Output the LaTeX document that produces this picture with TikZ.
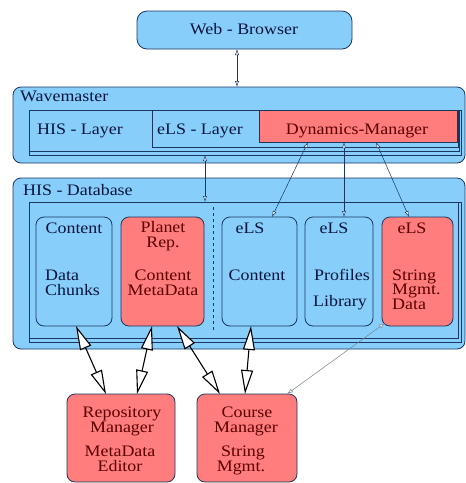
\documentclass[tikz,border=0pt]{standalone}
\usepackage{fontspec}
\setmainfont{Liberation Serif}[FakeStretch=1.12]
\usetikzlibrary{arrows.meta,calc}
\definecolor{lblue}{RGB}{135,206,250}
\definecolor{lred}{RGB}{255,125,125}
\definecolor{edge}{RGB}{25,55,95}
\definecolor{dred}{RGB}{90,0,0}
\definecolor{dnavy}{RGB}{10,20,60}
\definecolor{thingray}{RGB}{120,130,140}
\begin{document}
\begin{tikzpicture}[x=1pt,y=-1pt,
  box/.style={draw=edge,line width=0.8pt,inner sep=0pt,outer sep=0pt,anchor=north west},
  bluebox/.style={box,fill=lblue},
  redbox/.style={box,fill=lred},
  lbl/.style={inner sep=0pt,font=\fontsize{16}{15}\selectfont,text=dnavy,anchor=base},
  lblw/.style={lbl,anchor=base west},
  rlbl/.style={lbl,text=dred},
  rlblw/.style={lblw,text=dred},
  big/.style={line width=1.1pt,{Triangle[length=24pt,width=12pt,fill=white]}-{Triangle[length=24pt,width=12pt,fill=white]}},
  small/.style={draw=edge,line width=0.5pt,{Latex[length=6pt,width=4pt,fill=white]}-{Latex[length=6pt,width=4pt,fill=white]}},
  thin/.style={draw=thingray,line width=0.5pt,{Latex[length=6pt,width=4pt,fill=white]}-{Latex[length=6pt,width=4pt,fill=white]}},
]
\useasboundingbox (0,0) rectangle (466,483);

% Web browser
\node[bluebox,rounded corners=10pt,minimum width=215pt,minimum height=38pt] (web) at (137,11) {};
\node[lbl] (webt) at (244,34) {Web - Browser};

% Wavemaster
\node[bluebox,rounded corners=8pt,minimum width=452pt,minimum height=76pt] (wm) at (13,87) {};
\node[bluebox,minimum width=432pt,minimum height=45pt] (wmf) at (29,110) {};
\node[bluebox,minimum width=430pt,minimum height=41pt] (hisl) at (29,110) {};
\node[bluebox,minimum width=306pt,minimum height=37pt] (elsl) at (152,110) {};
\node[redbox,minimum width=198pt,minimum height=32pt] (dm) at (259,110) {};
\node[lblw] (wmt) at (20,101) {Wavemaster};
\node[lblw] (hislt) at (37,134) {HIS - Layer};
\node[lblw] (elslt) at (157,134) {eLS - Layer};
\node[rlbl] (dmt) at (357,134) {Dynamics-Manager};

% HIS Database
\node[bluebox,rounded corners=8pt,minimum width=452pt,minimum height=171pt] (db) at (13,178) {};
\node[bluebox,minimum width=432pt,minimum height=140pt] (dbf) at (29,202) {};
\node[bluebox,minimum width=429pt,minimum height=136pt] (dbf2) at (29,202) {};
\node[lblw] (dbt) at (23,195) {HIS - Database};
\coordinate (dtop) at (213,207);
\coordinate (dbot) at (213,330);
\draw[draw=edge,line width=0.6pt,dashed] (dtop) -- (dbot);

\node[bluebox,rounded corners=8pt,minimum width=76pt,minimum height=109pt] (dc) at (36,217) {};
\node[redbox,rounded corners=8pt,minimum width=83pt,minimum height=109pt] (pr) at (121,217) {};
\node[bluebox,rounded corners=8pt,minimum width=75pt,minimum height=109pt] (ec) at (222,217) {};
\node[bluebox,rounded corners=8pt,minimum width=68pt,minimum height=109pt] (ep) at (305,217) {};
\node[redbox,rounded corners=8pt,minimum width=71pt,minimum height=109pt] (es) at (382,217) {};

\node[lbl] (dct1) at (74,233) {Content};
\node[lblw] (dct2) at (45,280) {Data};
\node[lblw] (dct3) at (45,295) {Chunks};
\node[rlbl] (prt1) at (163,232) {Planet};
\node[rlbl] (prt2) at (163,247) {Rep.};
\node[rlbl] (prt3) at (163,280) {Content};
\node[rlbl] (prt4) at (163,295) {MetaData};
\node[lbl] (ect1) at (250,233) {eLS};
\node[lbl] (ect2) at (257,280) {Content};
\node[lbl] (ept1) at (334,233) {eLS};
\node[lbl] (ept2) at (342,280) {Profiles};
\node[lbl] (ept3) at (340,306) {Library};
\node[rlbl] (est1) at (412,233) {eLS};
\node[rlblw] (est2) at (392,280) {String};
\node[rlblw] (est3) at (392,294.5) {Mgmt.};
\node[rlblw] (est4) at (392,309) {Data};

% Bottom managers
\node[redbox,rounded corners=8pt,minimum width=108pt,minimum height=88pt] (rm) at (67,394) {};
\node[redbox,rounded corners=8pt,minimum width=100pt,minimum height=88pt] (cm) at (197,394) {};
\node[rlbl] (rmt1) at (122,417) {Repository};
\node[rlbl] (rmt2) at (122,432) {Manager};
\node[rlbl] (rmt3) at (120,456) {MetaData};
\node[rlbl] (rmt4) at (120,471) {Editor};
\node[rlbl] (cmt1) at (247,417) {Course};
\node[rlbl] (cmt2) at (246,432) {Manager};
\node[rlbl] (cmt3) at (243,456) {String};
\node[rlbl] (cmt4) at (241,471) {Mgmt.};

% small connectors
\draw[small] ([xshift=-7.5pt]web.south) -- ([xshift=-2pt]wm.north);
\draw[small] ([xshift=-40pt]wmf.south) -- ([xshift=-40pt]dbf.north);
\draw[small] ([xshift=-50pt]dm.south) -- ([xshift=12.5pt]ec.north);
\draw[small] ([xshift=-14pt]dm.south) -- ([xshift=5pt]ep.north);
\draw[small] ([xshift=18pt]dm.south) -- ([xshift=-8.5pt]es.north);

% big double arrows
\draw[big] ([xshift=2pt]dc.south) -- ([xshift=-15pt]rm.north);
\draw[big] ([xshift=-10.5pt]pr.south) -- ([xshift=16pt]rm.north);
\draw[big] ([xshift=14.5pt]pr.south) -- ([xshift=-27pt]cm.north);
\draw[big] ([xshift=-8.5pt]ec.south) -- ([xshift=-2pt]cm.north);
\draw[thin] ($(es.south west)+(3,-3)$) -- ($(cm.north east)+(-10,0)$);
\end{tikzpicture}
\end{document}
